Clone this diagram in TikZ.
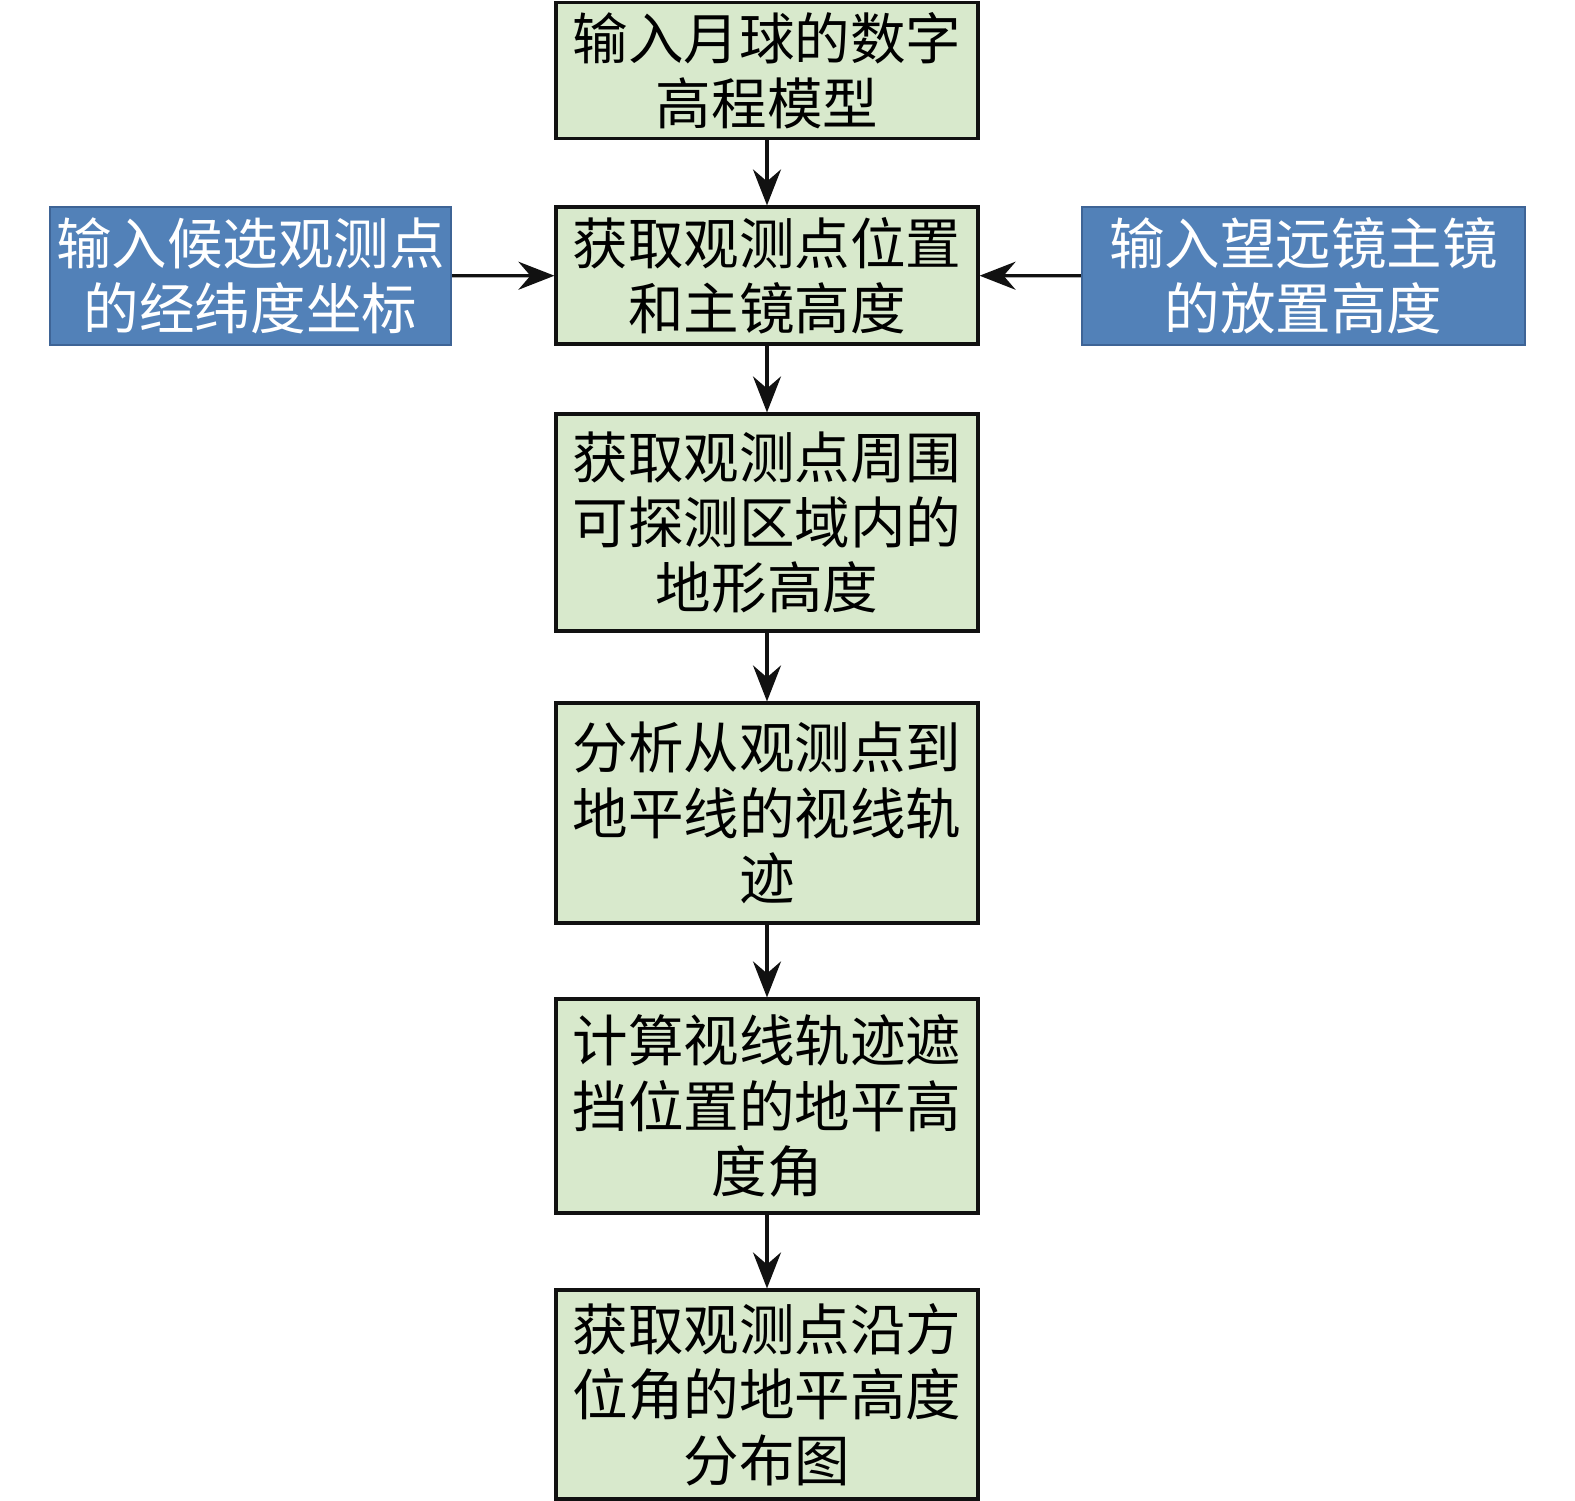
\documentclass[tikz,border=0pt]{standalone}
\usepackage{fontspec}
\usepackage{tikz}
\usepackage{xcolor}
\usetikzlibrary{positioning, arrows.meta}
\newfontfamily\cjk{Noto Sans CJK SC}
\definecolor{stepgreen}{RGB}{216, 233, 204}
\definecolor{inblue}{RGB}{82, 129, 184}
\definecolor{inblueedge}{RGB}{62, 100, 150}
\definecolor{lineblack}{RGB}{17, 17, 17}
\tikzset{
    stepbox/.style={rectangle, draw=lineblack, line width=0.9pt, fill=stepgreen, text=black,
        minimum width=4.22cm, align=center, inner sep=0pt, font=\cjk\fontsize{15.8}{18.6}\selectfont},
    inbox/.style={rectangle, draw=inblueedge, line width=0.6pt, fill=inblue, text=white,
        minimum height=1.38cm, align=center, inner sep=0pt, font=\cjk\fontsize{15.8}{18.6}\selectfont},
    flow/.style={draw=lineblack, line width=0.9pt, -{Stealth[length=3.6mm, width=2.8mm, inset=1.2mm]}}
}
\begin{document}
\begin{tikzpicture}
    \useasboundingbox (0,0) rectangle (15.75,-15.01);
    % main steps
    \node[stepbox, minimum height=1.36cm] (dem) at (7.67,-0.705) {输入月球的数字\\高程模型};
    \node[stepbox, minimum height=1.37cm] (site) at (7.67,-2.755) {获取观测点位置\\和主镜高度};
    \node[stepbox, minimum height=2.17cm] (terrain) at (7.67,-5.225) {获取观测点周围\\可探测区域内的\\地形高度};
    \node[stepbox, minimum height=2.20cm] (sight) at (7.67,-8.13) {分析从观测点到\\地平线的视线轨\\迹};
    \node[stepbox, minimum height=2.14cm] (block) at (7.67,-11.06) {计算视线轨迹遮\\挡位置的地平高\\度角};
    \node[stepbox, minimum height=2.09cm] (result) at (7.67,-13.945) {获取观测点沿方\\位角的地平高度\\分布图};

    % inputs
    \node[inbox, minimum width=4.01cm] (coord) at (2.505,-2.76) {输入候选观测点\\的经纬度坐标};
    \node[inbox, minimum width=4.43cm] (mirror) at (13.035,-2.76) {输入望远镜主镜\\的放置高度};

    \draw[flow] (dem) -- (site);
    \draw[flow] (site) -- (terrain);
    \draw[flow] (terrain) -- (sight);
    \draw[flow] (sight) -- (block);
    \draw[flow] (block) -- (result);
    \draw[flow] (coord) -- (site);
    \draw[flow] (mirror) -- (site);
\end{tikzpicture}
\end{document}
